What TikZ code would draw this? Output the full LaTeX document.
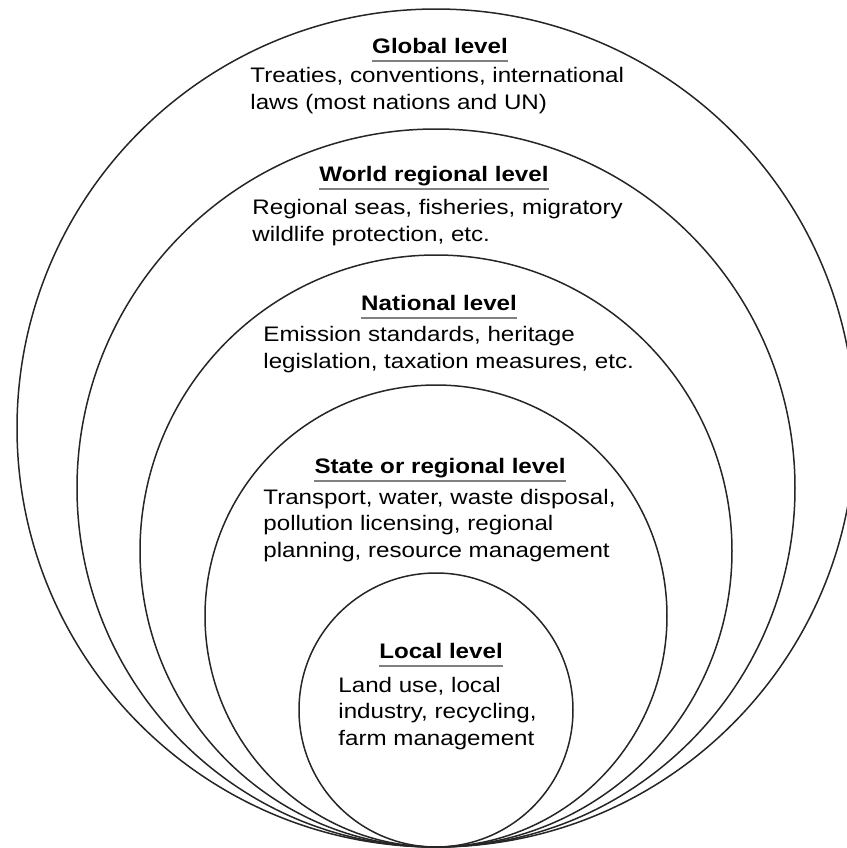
\documentclass[tikz,border=0pt]{standalone}
\usepackage{fontspec}
\setmainfont{Liberation Sans}[FakeStretch=1.15]

\begin{document}
\begin{tikzpicture}[x=0.5pt, y=-0.5pt]
        % ================= styles =================
        \tikzset{
            % circle outline
            ring/.style={line width=0.75pt, black!85},
            % bold heading of a level
            lvl_head/.style={anchor=base, inner sep=0pt, font=\fontsize{10.5}{13.25}\selectfont\bfseries},
            % grey rule under the heading
            lvl_rule/.style={line width=1pt, black!50},
            % description text, left aligned (placed at the baseline of its last line)
            lvl_text/.style={anchor=base west, inner sep=0pt, align=left, font=\fontsize{10.5}{13.25}\selectfont}
        }

        \useasboundingbox (0,0) rectangle (847,848);

        % ================= nested circles (all touch at the bottom) =================
        \foreach \r in {419,359,296,231,137} {
            \draw[ring] (436,847-\r) circle (\r);
        }

        % ================= global level =================
        \node[lvl_head] (glob) at (440,53) {Global level};
        \draw[lvl_rule] ([yshift=-3.8pt]glob.base west) -- ([yshift=-3.8pt]glob.base east);
        \node[lvl_text] (glob_txt) at (250,109) {Treaties, conventions, international\\laws (most nations and UN)};

        % ================= world regional level =================
        \node[lvl_head] (world) at (434,181) {World regional level};
        \draw[lvl_rule] ([yshift=-3.8pt]world.base west) -- ([yshift=-3.8pt]world.base east);
        \node[lvl_text] (world_txt) at (252,241) {Regional seas, fisheries, migratory\\wildlife protection, etc.};

        % ================= national level =================
        \node[lvl_head] (nat) at (439,310) {National level};
        \draw[lvl_rule] ([yshift=-3.8pt]nat.base west) -- ([yshift=-3.8pt]nat.base east);
        \node[lvl_text] (nat_txt) at (263,368) {Emission standards, heritage\\legislation, taxation measures, etc.};

        % ================= state or regional level =================
        \node[lvl_head] (state) at (440,473) {State or regional level};
        \draw[lvl_rule] ([yshift=-3.8pt]state.base west) -- ([yshift=-3.8pt]state.base east);
        \node[lvl_text] (state_txt) at (263,557) {Transport, water, waste disposal,\\pollution licensing, regional\\planning, resource management};

        % ================= local level =================
        \node[lvl_head] (loc) at (441,658) {Local level};
        \draw[lvl_rule] ([yshift=-3.8pt]loc.base west) -- ([yshift=-3.8pt]loc.base east);
        \node[lvl_text] (loc_txt) at (338,745) {Land use, local\\industry, recycling,\\farm management};

    \end{tikzpicture}
\end{document}
